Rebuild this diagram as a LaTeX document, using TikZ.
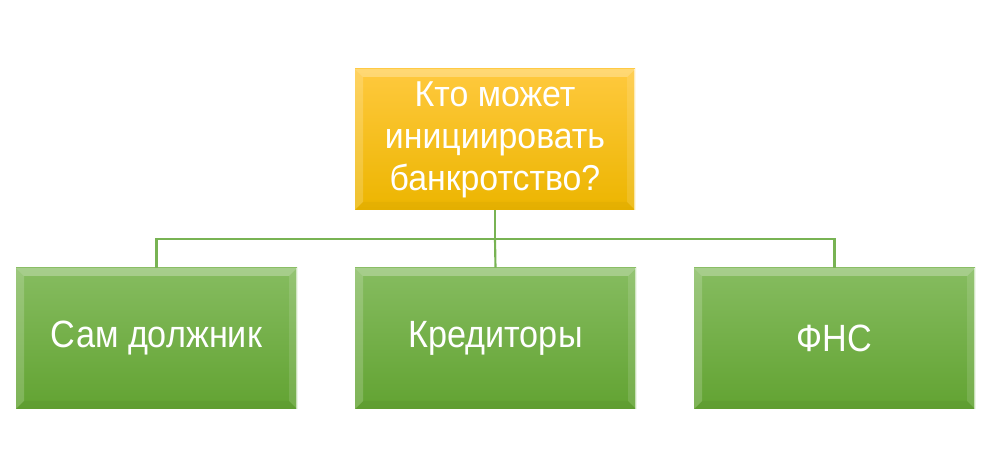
\documentclass[tikz,border=0pt]{standalone}
\usepackage{fontspec}
\setmainfont{Liberation Sans}
\newfontfamily\topfont[FakeStretch=0.94]{Liberation Sans}
\newfontfamily\leaffont[FakeStretch=0.9]{Liberation Sans}
\begin{document}
\begin{tikzpicture}[x=0.75pt,y=-0.75pt,
  bevel/.style={path picture={
    \fill[white,opacity=0.28] (path picture bounding box.north west) -- (path picture bounding box.north east) -- ([xshift=-6pt,yshift=-6pt]path picture bounding box.north east) -- ([xshift=6pt,yshift=-6pt]path picture bounding box.north west) -- cycle;
    \fill[white,opacity=0.18] (path picture bounding box.north west) -- ([xshift=6pt,yshift=-6pt]path picture bounding box.north west) -- ([xshift=6pt,yshift=6pt]path picture bounding box.south west) -- (path picture bounding box.south west) -- cycle;
    \fill[white,opacity=0.12] (path picture bounding box.north east) -- ([xshift=-6pt,yshift=-6pt]path picture bounding box.north east) -- ([xshift=-6pt,yshift=6pt]path picture bounding box.south east) -- (path picture bounding box.south east) -- cycle;
    \fill[black,opacity=0.03] (path picture bounding box.south west) -- ([xshift=6pt,yshift=6pt]path picture bounding box.south west) -- ([xshift=-6pt,yshift=6pt]path picture bounding box.south east) -- (path picture bounding box.south east) -- cycle;
    \draw[white,opacity=0.6,line width=1pt] ([xshift=-0.5pt]path picture bounding box.north east) -- ([xshift=-0.5pt]path picture bounding box.south east);
  }},
  topbox/.style={bevel, top color=yellowTop, bottom color=yellowBot, minimum width=210pt, minimum height=105.75pt, inner sep=0pt, text=white, align=center, font=\topfont\fontsize{27}{31.5}\selectfont},
  leafbox/.style={bevel, top color=greenTop, bottom color=greenBot, minimum width=210.75pt, minimum height=105.75pt, inner sep=0pt, text=white, align=center, font=\leaffont\fontsize{28.5}{32}\selectfont},
  link/.style={draw=lineGreen, line width=1.6pt}
]
\definecolor{yellowTop}{HTML}{FFC93E}
\definecolor{yellowBot}{HTML}{ECB500}
\definecolor{greenTop}{HTML}{86BC60}
\definecolor{greenBot}{HTML}{62A332}
\definecolor{lineGreen}{HTML}{78B353}
\useasboundingbox (0,0) rectangle (1001,470);
\node[topbox] (q) at (495,139.5) {Кто может\\инициировать\\банкротство?};
\node[leafbox] (a) at (156.5,338.5) {\raisebox{-1.5pt}{Сам должник}};
\node[leafbox] (b) at (495.5,338.5) {\raisebox{-1.5pt}{Кредиторы}};
\node[leafbox] (c) at (834.5,338.5) {\raisebox{-1.5pt}{ФНС}};
\coordinate (j) at (495,239);
\draw[link] (q.south) -- (j);
\draw[link] (a.north) |- (j) -| (c.north);
\draw[link] (j) -- (b.north);
\end{tikzpicture}
\end{document}
